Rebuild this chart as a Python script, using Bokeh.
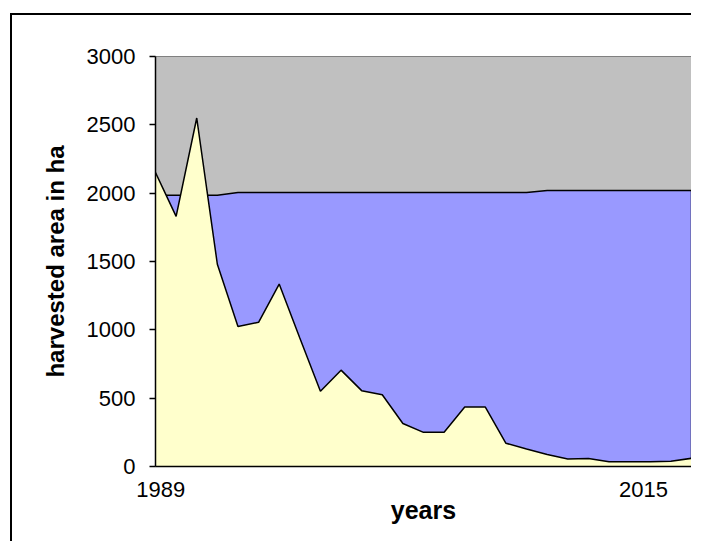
from bokeh.plotting import figure
from bokeh.models import Range1d, FixedTicker
from bokeh.embed import file_html
from bokeh.resources import INLINE

years = list(range(1989, 2016))
harvested = [2150, 1830, 2550, 1480, 1025, 1055, 1335, 940, 550, 705,
             555, 525, 315, 250, 250, 435, 435, 170, 128, 88,
             55, 58, 34, 34, 34, 38, 60]
total = [1985, 1985, 1985, 1985, 2005, 2005, 2005, 2005, 2005, 2005,
         2005, 2005, 2005, 2005, 2005, 2005, 2005, 2005, 2005, 2020,
         2020, 2020, 2020, 2020, 2020, 2020, 2020]
y_ticks = [0, 500, 1000, 1500, 2000, 2500, 3000]
# year captions as they are placed under the axis in the original
x_caption_pos = [1989.25, 2012.67]
x_caption_text = ["1989", "2015"]

FONT = "Liberation Sans"

p = figure(width=681, height=528,
           x_range=Range1d(years[0], years[-1]), y_range=Range1d(0, 3000),
           output_backend="svg", toolbar_location=None,
           min_border_left=143, min_border_right=2,
           min_border_top=41, min_border_bottom=77)
p.margin = (13, 0, 0, 10)
p.styles = {"border-left": "2px solid black", "border-top": "2px solid black"}
p.background_fill_color = "#C0C0C0"
p.border_fill_color = "white"
p.outline_line_color = "#808080"
p.outline_line_width = 1
p.grid.visible = False

# total area (blue)
zeros = [0] * len(years)
p.varea(x=years, y1=zeros, y2=total, fill_color="#9999FF")
p.line(x=years, y=total, line_color="black", line_width=1.5)
p.segment(x0=[years[-1]], y0=[0], x1=[years[-1]], y1=[total[-1]],
          line_color="black", line_width=1.5)
# harvested area (yellow)
p.varea(x=years, y1=zeros, y2=harvested, fill_color="#FFFFCC")
p.line(x=years, y=harvested, line_color="black", line_width=1.5)

# y axis
yax = p.yaxis[0]
yax.ticker = FixedTicker(ticks=y_ticks)
yax.major_tick_out = 6
yax.major_tick_in = 0
yax.minor_tick_line_color = None
yax.axis_line_color = "black"
yax.axis_line_width = 1.5
yax.major_tick_line_color = "black"
yax.major_tick_line_width = 1.5
yax.major_label_text_font = FONT
yax.major_label_text_font_size = "22px"
yax.major_label_text_color = "black"
yax.major_label_standoff = 14
yax.axis_label = "harvested area in ha"
yax.axis_label_text_font = FONT
yax.axis_label_text_font_style = "bold"
yax.axis_label_text_font_size = "24px"
yax.axis_label_text_color = "black"
yax.axis_label_standoff = 15

# x axis
xax = p.xaxis[0]
xax.ticker = FixedTicker(ticks=x_caption_pos)
xax.major_label_overrides = dict(zip(x_caption_pos, x_caption_text))
xax.major_tick_out = 0
xax.major_tick_in = 0
xax.major_tick_line_color = None
xax.minor_tick_line_color = None
xax.axis_line_color = "black"
xax.axis_line_width = 1.5
xax.major_label_text_font = FONT
xax.major_label_text_font_size = "22px"
xax.major_label_text_color = "black"
xax.major_label_standoff = 15
xax.axis_label = "years"
xax.axis_label_text_font = FONT
xax.axis_label_text_font_style = "bold"
xax.axis_label_text_font_size = "25px"
xax.axis_label_text_color = "black"
xax.axis_label_standoff = -4

open("out.html", "w").write(file_html(p, INLINE))
